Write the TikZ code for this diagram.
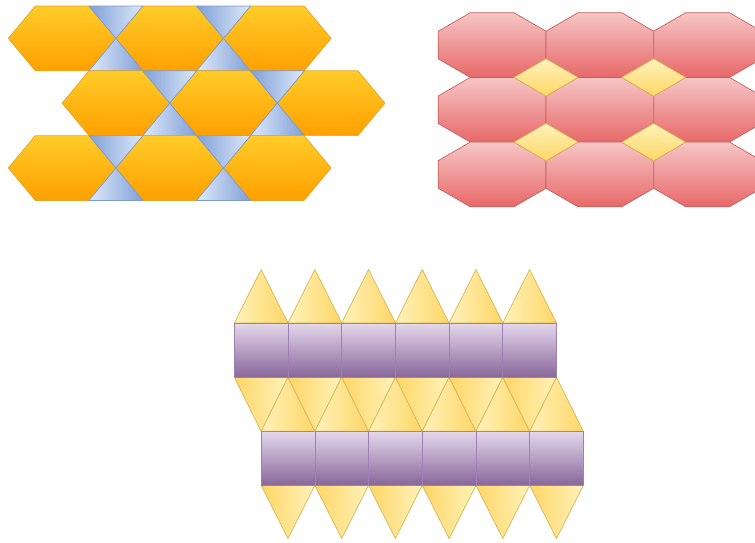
\documentclass[tikz,border=0pt]{standalone}
\usepackage{tikz}

\definecolor{hextop}{RGB}{255,204,41}
\definecolor{hexbot}{RGB}{255,160,0}
\definecolor{hexline}{RGB}{228,166,40}
\definecolor{bluedark}{RGB}{128,160,215}
\definecolor{bluelight}{RGB}{222,233,250}
\definecolor{blueline}{RGB}{125,155,205}
\definecolor{octtop}{RGB}{246,198,198}
\definecolor{octbot}{RGB}{232,104,104}
\definecolor{octline}{RGB}{198,96,96}
\definecolor{dmtop}{RGB}{255,242,186}
\definecolor{dmbot}{RGB}{255,214,102}
\definecolor{dmline}{RGB}{214,182,86}
\definecolor{sqtop}{RGB}{228,216,236}
\definecolor{sqbot}{RGB}{136,102,154}
\definecolor{sqline}{RGB}{160,128,180}

\begin{document}
\begin{tikzpicture}[
  x=1pt, y=-1pt,
  tile/.style={line width=0.7pt, line join=round},
  hexa/.style={tile, draw=hexline, top color=hextop, bottom color=hexbot},
  blueup/.style={tile, draw=blueline, left color=bluelight, right color=bluedark},
  bluedown/.style={tile, draw=blueline, left color=bluedark, right color=bluelight},
  octa/.style={tile, draw=octline, top color=octtop, bottom color=octbot},
  rhomb/.style={tile, draw=dmline, top color=dmtop, bottom color=dmbot},
  sqbox/.style={tile, draw=sqline, top color=sqtop, bottom color=sqbot},
  triup/.style={tile, draw=dmline, left color=dmtop, right color=dmbot},
  tridown/.style={tile, draw=dmline, left color=dmbot, right color=dmtop}
]
\useasboundingbox (0,0) rectangle (755,542);
\clip (0,0) rectangle (755,542);

% hexagons with triangles
\foreach \cy/\off in {38.4/0, 103.2/53.8, 168/0} {
  \foreach \k in {0,1,2} {
    \pgfmathsetmacro\cx{62.1+\off+107.6*\k}
    \draw[hexa] (\cx-53.8,\cy) -- (\cx-26.8,\cy-32.4) -- (\cx+26.8,\cy-32.4)
      -- (\cx+53.8,\cy) -- (\cx+26.8,\cy+32.4) -- (\cx-26.8,\cy+32.4) -- cycle;
  }
  \foreach \k in {0,1} {
    \pgfmathsetmacro\mx{115.9+\off+107.6*\k}
    \draw[bluedown] (\mx-27,\cy-32.4) -- (\mx+27,\cy-32.4) -- (\mx,\cy) -- cycle;
    \draw[blueup] (\mx,\cy) -- (\mx+27,\cy+32.4) -- (\mx-27,\cy+32.4) -- cycle;
  }
}

% octagons with squares
\foreach \cy in {45.05,109.75,174.45}
  \foreach \cx in {492.15,599.85,707.55}
    \draw[octa] (\cx-53.85,\cy-13.85) -- (\cx-21.85,\cy-32.35) -- (\cx+21.85,\cy-32.35)
      -- (\cx+53.85,\cy-13.85) -- (\cx+53.85,\cy+13.85) -- (\cx+21.85,\cy+32.35)
      -- (\cx-21.85,\cy+32.35) -- (\cx-53.85,\cy+13.85) -- cycle;
\foreach \cy in {77.4,142.1}
  \foreach \cx in {546,653.7}
    \draw[rhomb] (\cx-32,\cy) -- (\cx,\cy-18.7) -- (\cx+32,\cy) -- (\cx,\cy+18.7) -- cycle;

% squares with triangles
\foreach \k in {0,...,5} {
  \pgfmathsetmacro\xa{234.3+53.7*\k}
  \pgfmathsetmacro\xb{\xa+26.85}
  \draw[triup] (\xa,323) -- (\xa+26.85,269.5) -- (\xa+53.7,323) -- cycle;
  \draw[tridown] (\xa,377.3) -- (\xa+53.7,377.3) -- (\xa+26.85,431.3) -- cycle;
  \draw[triup] (\xb,431.3) -- (\xb+26.85,377.3) -- (\xb+53.7,431.3) -- cycle;
  \draw[tridown] (\xb,485.3) -- (\xb+53.7,485.3) -- (\xb+26.85,538.5) -- cycle;
  \draw[sqbox] (\xa,323) rectangle (\xa+53.7,377.3);
  \draw[sqbox] (\xb,431.3) rectangle (\xb+53.7,485.3);
}
\end{tikzpicture}
\end{document}
